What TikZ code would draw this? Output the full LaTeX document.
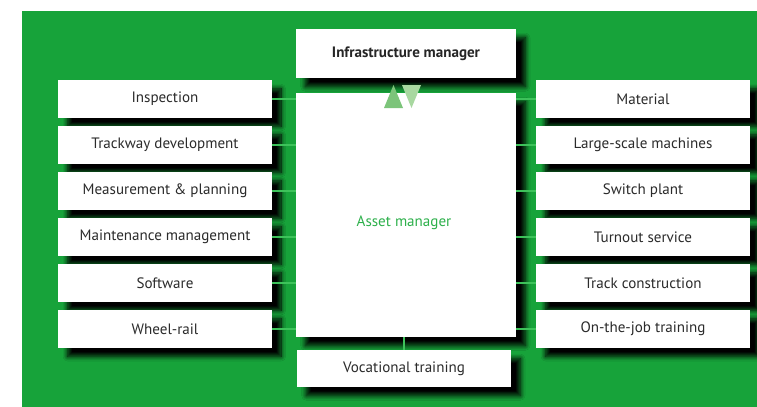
\documentclass[tikz,border=0pt]{standalone}
\usepackage{fontspec}
\setmainfont{PT Sans}
\usetikzlibrary{shadows.blur}
\definecolor{bggreen}{HTML}{17A33A}
\definecolor{linegreen}{HTML}{3DC25A}
\definecolor{txtgray}{HTML}{2B2B2B}
\definecolor{assetgreen}{HTML}{2DB04B}
\definecolor{triup}{HTML}{7CC47A}
\definecolor{tridown}{HTML}{A8D8A0}
\tikzset{
  boxshadow/.style={blur shadow={shadow xshift=7pt, shadow yshift=-6.5pt, shadow blur radius=3.5pt, shadow opacity=100, shadow blur steps=10}},
  sidebox/.style={fill=white, draw=none, minimum width=160pt, minimum height=28.2pt, inner sep=0pt,
    font=\fontsize{11.3pt}{13pt}\selectfont, text=txtgray, boxshadow},
  conn/.style={draw=linegreen, line width=0.9pt},
}
\begin{document}
\begin{tikzpicture}[x=0.75pt, y=-0.75pt]
\useasboundingbox (0,0) rectangle (757,407);
\clip (0,0) rectangle (757,407);
\fill[bggreen] (22,11) rectangle (757,407);
% centre column
\node[sidebox, minimum width=165pt, minimum height=36.75pt, font=\fontsize{11.3pt}{13pt}\selectfont\bfseries, text=black!85] (infra) at (406,53.5) {Infrastructure manager};
\node[sidebox, minimum width=165pt, minimum height=183pt] (asset) at (406,215) {};
\node[text=assetgreen, font=\fontsize{11.3pt}{13pt}\selectfont, inner sep=0pt] (assetlbl) at (404,223) {Asset manager};
\node[sidebox, minimum width=160.5pt, minimum height=27.75pt] (voc) at (404,368.5) {Vocational training};
% left column
\node[sidebox] (l1) at (165,99) {Inspection};
\node[sidebox] (l2) at (165,145) {Trackway development};
\node[sidebox] (l3) at (165,191) {Measurement \& planning};
\node[sidebox] (l4) at (165,237) {Maintenance management};
\node[sidebox] (l5) at (165,283) {Software};
\node[sidebox] (l6) at (165,329) {Wheel-rail};
% right column
\node[sidebox] (r1) at (643,99) {Material};
\node[sidebox] (r2) at (643,145) {Large-scale machines};
\node[sidebox] (r3) at (643,191) {Switch plant};
\node[sidebox] (r4) at (643,237) {Turnout service};
\node[sidebox] (r5) at (643,283) {Track construction};
\node[sidebox] (r6) at (643,329) {On-the-job training};
% connectors
\foreach \n in {l1,l2,l3,l4,l5,l6} {\draw[conn] (\n.east) -- (\n.east -| asset.west);}
\foreach \n in {r1,r2,r3,r4,r5,r6} {\draw[conn] (\n.west) -- (\n.west -| asset.east);}
\draw[conn] (voc.north) -- (voc.north |- asset.south);
% triangles
\fill[triup] (384,108) -- (403,108) -- (393.5,85) -- cycle;
\fill[tridown] (402,85) -- (421,85) -- (411.5,108) -- cycle;
\end{tikzpicture}
\end{document}
